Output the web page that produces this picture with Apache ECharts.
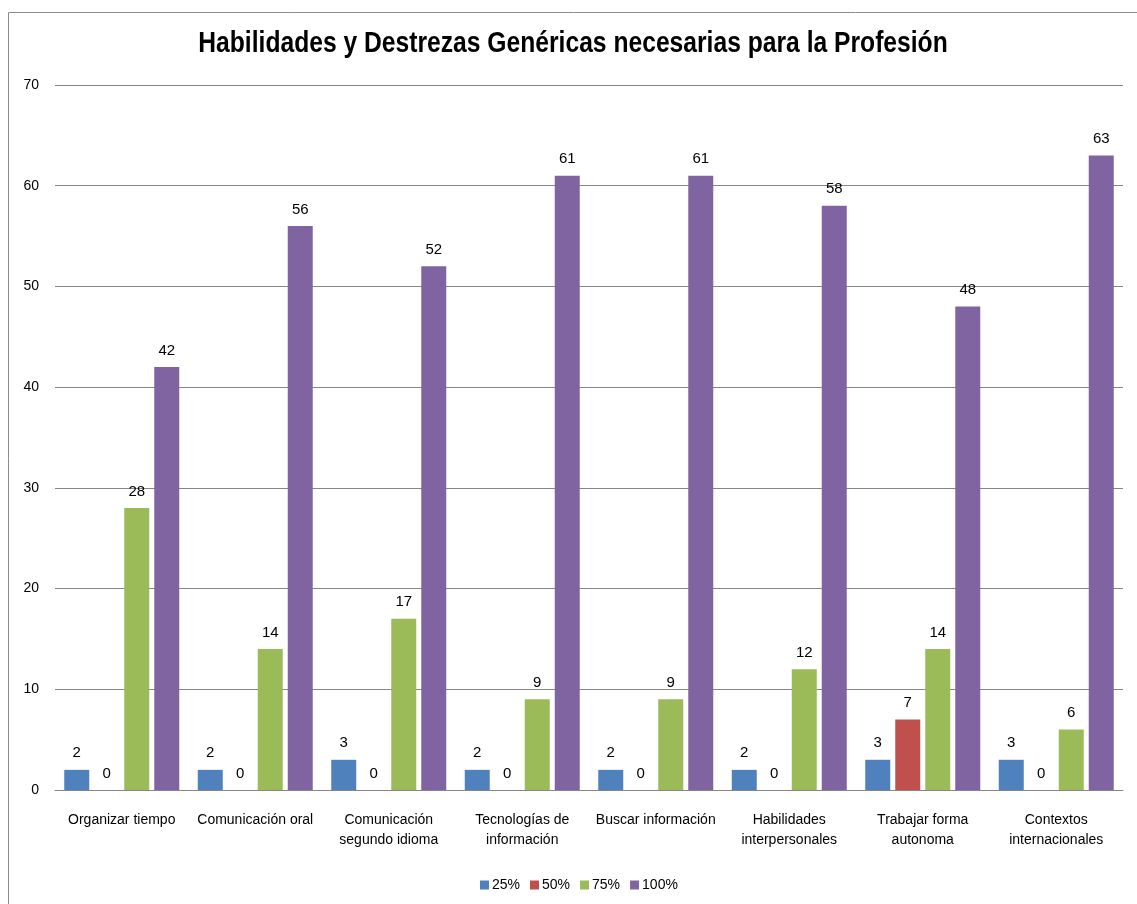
<!DOCTYPE html>
<html>
<head>
<meta charset="utf-8">
<script src="https://cdn.jsdelivr.net/npm/echarts@6/dist/echarts.min.js"></script>
<style>
  html, body { margin: 0; padding: 0; background: #fff; }
  #chart { width: 1137px; height: 904px; }
</style>
</head>
<body>
<div id="chart"></div>
<script>
// Skills surveyed and number of answers per importance level
const categories = [
  'Organizar tiempo',
  'Comunicación oral',
  'Comunicación\nsegundo idioma',
  'Tecnologías de\ninformación',
  'Buscar información',
  'Habilidades\ninterpersonales',
  'Trabajar forma\nautonoma',
  'Contextos\ninternacionales'
];
const seriesNames = ['25%', '50%', '75%', '100%'];
const values25 = [2, 2, 3, 2, 2, 2, 3, 3];
const values50 = [0, 0, 0, 0, 0, 0, 7, 0];
const values75 = [28, 14, 17, 9, 9, 12, 14, 6];
const values100 = [42, 56, 52, 61, 61, 58, 48, 63];
const yTicks = [0, 10, 20, 30, 40, 50, 60, 70];
const titleText = 'Habilidades y Destrezas Genéricas necesarias para la Profesión';

const colors = ['#4F81BD', '#C0504D', '#9BBB59', '#8064A2'];
const font = '"Liberation Sans Narrow", "Arial Narrow", "Liberation Sans", Arial, sans-serif';

const allValues = [values25, values50, values75, values100];

const chart = echarts.init(document.getElementById('chart'));
chart.setOption({
  animation: false,
  color: colors,
  graphic: [{
    type: 'rect',
    left: 6, top: 10,
    shape: { width: 1150, height: 920 },
    style: { fill: 'none', stroke: '#8c8c8c', lineWidth: 1 },
    silent: true
  }, {
    // condensed bold heading
    type: 'text',
    x: 573,
    y: 44,
    scaleX: 0.85,
    style: {
      text: titleText,
      font: 'bold 29px ' + font,
      fill: '#000',
      align: 'center',
      verticalAlign: 'middle'
    },
    silent: true
  }],
  legend: {
    data: seriesNames,
    bottom: 7,
    left: 475,
    itemWidth: 9,
    itemHeight: 9,
    itemGap: 10,
    icon: 'rect',
    textStyle: { fontFamily: font, fontSize: 14, color: '#000', padding: [0, 0, 0, -2] }
  },
  grid: { left: 55, right: 14, top: 85, bottom: 114, containLabel: false },
  xAxis: {
    type: 'category',
    data: categories,
    axisLine: { show: true, lineStyle: { color: '#868686', width: 1 } },
    axisTick: { show: false },
    axisLabel: {
      interval: 0,
      margin: 20,
      fontFamily: font,
      fontSize: 14,
      color: '#000',
      lineHeight: 20
    }
  },
  yAxis: {
    type: 'value',
    min: yTicks[0],
    max: yTicks[yTicks.length - 1],
    interval: 10,
    axisLine: { show: false },
    axisTick: { show: false },
    splitLine: { lineStyle: { color: '#868686', width: 1 } },
    axisLabel: { margin: 16, fontFamily: font, fontSize: 14, color: '#000' }
  },
  series: seriesNames.map((name, i) => ({
    name: name,
    type: 'bar',
    data: allValues[i],
    barWidth: 25,
    barGap: '20%',
    itemStyle: { color: colors[i] },
    label: {
      show: true,
      position: 'top',
      distance: 9,
      fontFamily: font,
      fontSize: 15,
      color: '#000'
    }
  }))
});
</script>
</body>
</html>
